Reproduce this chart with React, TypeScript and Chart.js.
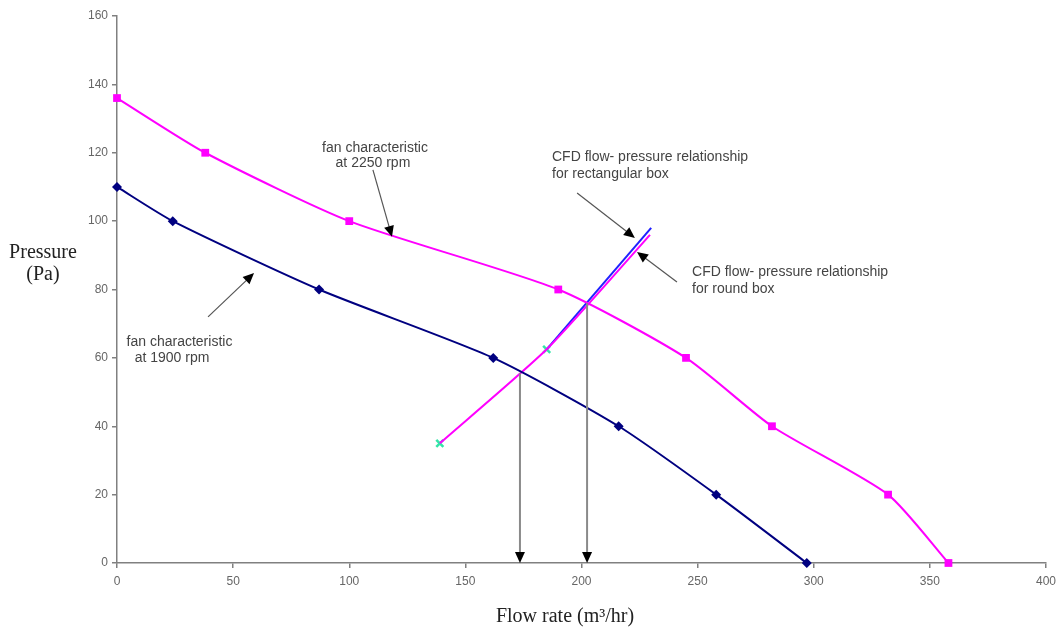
import React, { useEffect, useRef } from "react";
import { Chart, registerables } from "chart.js";

Chart.register(...registerables);

// ---- Data ----
const fan2250Flow = [0, 38, 100, 190, 245, 282, 332, 358];
const fan2250Pressure = [136, 120, 100, 80, 60, 40, 20, 0];

const fan1900Flow = [0, 24, 87, 162, 216, 258, 297];
const fan1900Pressure = [110, 100, 80, 60, 40, 20, 0];

const cfdRoundFlow = [139, 185, 229.5];
const cfdRoundPressure = [35, 62.5, 96];

const cfdRectFlow = [185, 230];
const cfdRectPressure = [62.5, 98];

const cfdSampleFlow = [139, 185];
const cfdSamplePressure = [35, 62.5];

const xTickStep = 50;
const yTickStep = 20;
const xMax = 400;
const yMax = 160;

// operating points (vertical arrows)
const opFlow = [173.5, 202.4];
const opPressure = [55.5, 76];

// annotation texts: [text, x, y, align]
const labelTexts: [string, number, number, CanvasTextAlign][] = [
  ["fan characteristic", 111.1, 121.4, "center"],
  ["at 2250 rpm", 110.2, 117.0, "center"],
  ["fan characteristic", 26.9, 64.6, "center"],
  ["at 1900 rpm", 23.7, 60.0, "center"],
  ["CFD flow- pressure relationship", 187.3, 118.8, "left"],
  ["for rectangular box", 187.3, 113.8, "left"],
  ["CFD flow- pressure relationship", 247.6, 85.1, "left"],
  ["for round box", 247.6, 80.1, "left"],
];

// annotation arrows: [tailX, tailY, headX, headY]
const labelArrows: [number, number, number, number][] = [
  [110.2, 115.0, 118.4, 95.4],
  [39.2, 72.0, 59.0, 84.8],
  [198.1, 108.2, 223.0, 95.1],
  [241.1, 82.2, 223.9, 91.0],
];

const toXY = (xs: number[], ys: number[]) => xs.map((x, i) => ({ x, y: ys[i] }));

function drawHead(ctx: CanvasRenderingContext2D, x1: number, y1: number, x2: number, y2: number, len: number, half: number) {
  const a = Math.atan2(y2 - y1, x2 - x1);
  ctx.beginPath();
  ctx.moveTo(x2, y2);
  ctx.lineTo(x2 - len * Math.cos(a) + half * Math.sin(a), y2 - len * Math.sin(a) - half * Math.cos(a));
  ctx.lineTo(x2 - len * Math.cos(a) - half * Math.sin(a), y2 - len * Math.sin(a) + half * Math.cos(a));
  ctx.closePath();
  ctx.fillStyle = "#000";
  ctx.fill();
}

const annotationPlugin = {
  id: "annotationsCustom",
  afterDatasetsDraw(chart: any) {
    const ctx: CanvasRenderingContext2D = chart.ctx;
    const xs = chart.scales.x;
    const ys = chart.scales.y;
    const area = chart.chartArea;
    ctx.save();
    // vertical arrows to operating flow
    opFlow.forEach((f, i) => {
      const px = xs.getPixelForValue(f);
      const pyTop = ys.getPixelForValue(opPressure[i]);
      const pyBot = ys.getPixelForValue(0);
      ctx.strokeStyle = "#8a8a8a";
      ctx.lineWidth = 2;
      ctx.beginPath();
      ctx.moveTo(px, pyTop);
      ctx.lineTo(px, pyBot - 8);
      ctx.stroke();
      drawHead(ctx, px, pyTop, px, pyBot, 11, 5);
    });
    // annotation arrows
    labelArrows.forEach(([tx, ty, hx, hy]) => {
      const x1 = xs.getPixelForValue(tx);
      const y1 = ys.getPixelForValue(ty);
      const x2 = xs.getPixelForValue(hx);
      const y2 = ys.getPixelForValue(hy);
      ctx.strokeStyle = "#555";
      ctx.lineWidth = 1.2;
      ctx.beginPath();
      ctx.moveTo(x1, y1);
      const a = Math.atan2(y2 - y1, x2 - x1);
      ctx.lineTo(x2 - 8 * Math.cos(a), y2 - 8 * Math.sin(a));
      ctx.stroke();
      drawHead(ctx, x1, y1, x2, y2, 11, 5);
    });
    // annotation texts
    ctx.fillStyle = "#444";
    ctx.font = "14px 'Liberation Sans', Arial, sans-serif";
    ctx.textBaseline = "middle";
    labelTexts.forEach(([t, x, y, al]) => {
      ctx.textAlign = al;
      ctx.fillText(t, xs.getPixelForValue(x), ys.getPixelForValue(y));
    });
    // axis titles
    ctx.fillStyle = "#222";
    ctx.font = "20px 'Liberation Serif', 'Times New Roman', serif";
    ctx.textAlign = "center";
    ctx.fillText("Pressure", area.left - 74, area.top + 237);
    ctx.fillText("(Pa)", area.left - 74, area.top + 259);
    ctx.fillText("Flow rate (m\u00B3/hr)", area.left + 448, area.bottom + 54);
    ctx.restore();
  },
};

export default function App() {
  const ref = useRef<HTMLCanvasElement | null>(null);
  useEffect(() => {
    if (!ref.current) return;
    const tickFont = { family: "'Liberation Sans', Arial, sans-serif", size: 12 };
    const chart = new Chart(ref.current, {
      type: "scatter",
      data: {
        datasets: [
          {
            label: "fan characteristic at 2250 rpm",
            data: toXY(fan2250Flow, fan2250Pressure),
            showLine: true,
            borderColor: "#ff00ff",
            backgroundColor: "#ff00ff",
            borderWidth: 2,
            tension: 0.22,
            pointStyle: "rect",
            pointRadius: 5.5,
            pointBorderWidth: 0,
            clip: false as any,
          },
          {
            label: "fan characteristic at 1900 rpm",
            data: toXY(fan1900Flow, fan1900Pressure),
            showLine: true,
            borderColor: "#000080",
            backgroundColor: "#000080",
            borderWidth: 2,
            tension: 0.22,
            pointStyle: "rectRot",
            pointRadius: 5,
            pointBorderWidth: 0,
            clip: false as any,
          },
          {
            label: "CFD round box",
            data: toXY(cfdRoundFlow, cfdRoundPressure),
            showLine: true,
            borderColor: "#ff00ff",
            backgroundColor: "#ff00ff",
            borderWidth: 2,
            tension: 0.2,
            pointRadius: 0,
            clip: false as any,
          },
          {
            label: "CFD rectangular box",
            data: toXY(cfdRectFlow, cfdRectPressure),
            showLine: true,
            borderColor: "#2020ff",
            backgroundColor: "#2020ff",
            borderWidth: 2,
            tension: 0,
            pointRadius: 0,
            clip: false as any,
          },
          {
            label: "CFD points",
            data: toXY(cfdSampleFlow, cfdSamplePressure),
            showLine: false,
            borderColor: "#33e6a8",
            backgroundColor: "#33e6a8",
            pointStyle: "crossRot",
            pointRadius: 5,
            pointBorderWidth: 2.5,
            clip: false as any,
          },
        ],
      },
      options: {
        animation: false,
        responsive: false,
        maintainAspectRatio: false,
        layout: { autoPadding: false, padding: { top: 16, right: 14, left: 0, bottom: 0 } },
        plugins: {
          legend: { display: false },
          tooltip: { enabled: false },
          title: { display: false },
        },
        scales: {
          x: {
            type: "linear",
            min: 0,
            max: xMax,
            ticks: { stepSize: xTickStep, color: "#666", font: tickFont, padding: 6 },
            grid: { display: true, drawOnChartArea: false, drawTicks: true, tickLength: 5, color: "#808080", lineWidth: 1.5 },
            border: { display: true, color: "#808080", width: 1.5 },
            afterFit: (s: any) => { s.height = 68; s.paddingRight = 10; s.paddingLeft = 0; },
          },
          y: {
            type: "linear",
            min: 0,
            max: yMax,
            ticks: { stepSize: yTickStep, color: "#666", font: tickFont, padding: 4 },
            grid: { display: true, drawOnChartArea: false, drawTicks: true, tickLength: 5, color: "#808080", lineWidth: 1.5 },
            border: { display: true, color: "#808080", width: 1.5 },
            afterFit: (s: any) => { s.width = 117; },
          },
        },
      } as any,
      plugins: [annotationPlugin],
    });
    return () => chart.destroy();
  }, []);
  return (
    <div style={{ position: "absolute", left: 0, top: 0, width: 1060, height: 631, background: "#fff" }}>
      <canvas ref={ref} width={1060} height={631} style={{ width: 1060, height: 631, display: "block" }} />
    </div>
  );
}
